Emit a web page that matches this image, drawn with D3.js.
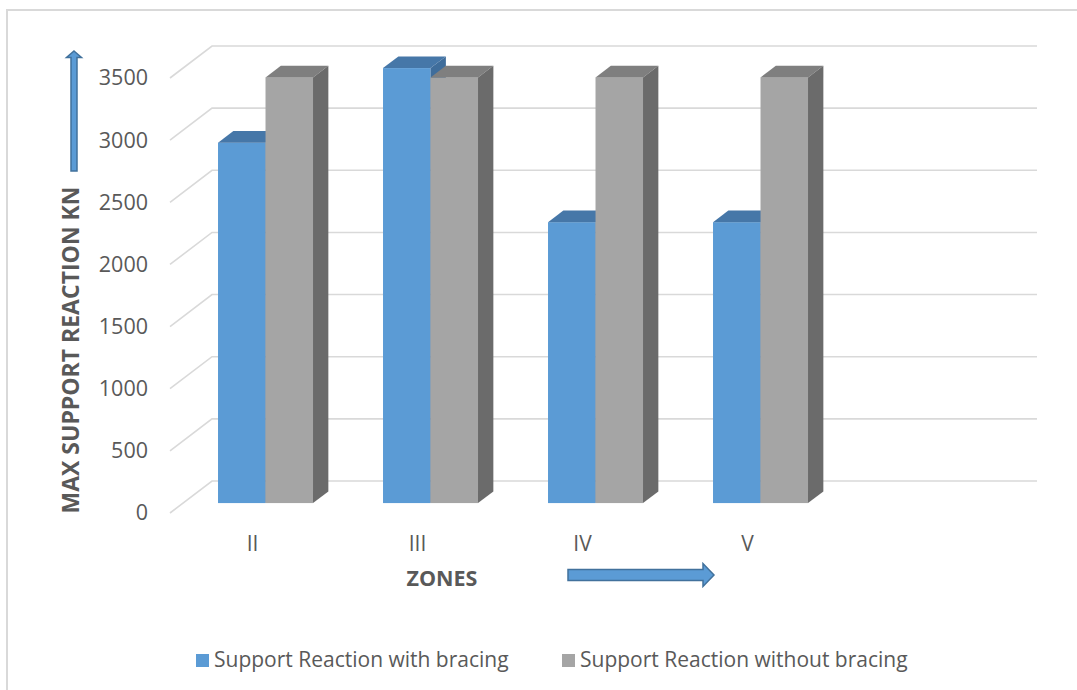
<!DOCTYPE html>
<html>
<head>
<meta charset="utf-8">
<script src="https://cdn.jsdelivr.net/npm/d3@7"></script>
<style>
  html, body { margin: 0; padding: 0; background: #fff; }
  svg { display: block; }
  text { font-family: "Open Sans", Lato, sans-serif; fill: #595959; }
</style>
</head>
<body>
<svg id="chart" width="1077" height="690"></svg>
<script>
// Zones along the x axis (the last slot is left empty)
const categories = ["II", "III", "IV", "V", ""];
// Max support reaction (kN) per zone
const withBracing = [2900, 3500, 2260, 2260];
const withoutBracing = [3425, 3425, 3425, 3425];
const seriesNames = ["Support Reaction with bracing", "Support Reaction without bracing"];
const yTicks = [0, 500, 1000, 1500, 2000, 2500, 3000, 3500];

const FONT = '"Open Sans", Lato, sans-serif';
const svg = d3.select("#chart");

// Outer chart frame
svg.append("rect")
  .attr("x", 7).attr("y", 10).attr("width", 1100).attr("height", 700)
  .attr("fill", "none").attr("stroke", "#d9d9d9").attr("stroke-width", 2);

// Front plane scales; the 3D depth is an oblique offset
const x = d3.scaleBand().domain(categories).range([170, 995]);
const y = d3.scaleLinear().domain([0, 3500]).range([513, 78]);
const DX = 42, DY = -32;          // full depth of the plot box
const f0 = 0.31, f1 = 0.675;      // bar depth slab (fraction of box depth)

// Gridlines: diagonal on the floor side, horizontal on the back wall
const grid = svg.append("g").attr("fill", "none").attr("stroke", "#d9d9d9").attr("stroke-width", 1.6);
yTicks.forEach(t => {
  const yy = y(t);
  grid.append("path")
    .attr("d", `M${x.range()[0]},${yy} L${x.range()[0] + DX},${yy + DY} L${x.range()[1] + DX},${yy + DY}`);
});

// Y tick labels
const yAxis = svg.append("g")
  .attr("transform", `translate(${x.range()[0]},0)`)
  .call(d3.axisLeft(y).tickValues(yTicks).tickSize(0).tickPadding(22).tickFormat(d3.format("d")));
yAxis.select(".domain").remove();
yAxis.selectAll("text").attr("font-size", 21.5).attr("fill", "#595959")
  .style("font-family", FONT);

// X tick labels
const xAxis = svg.append("g")
  .attr("transform", `translate(0,536)`)
  .call(d3.axisBottom(x).tickSize(0).tickPadding(0));
xAxis.select(".domain").remove();
xAxis.selectAll("text").attr("font-size", 21).attr("fill", "#595959")
  .style("font-family", FONT);

// 3D bars
const sub = d3.scaleBand().domain([0, 1]).range([-47.5, 47.5]);
const palette = [
  { front: "#5b9bd5", top: "#4677a8", side: "#3f6d9b" },
  { front: "#a5a5a5", top: "#7f7f7f", side: "#6b6b6b" }
];
const ox = f0 * DX, oy = f0 * DY;
const dd = (f1 - f0) * DX, ddy = (f1 - f0) * DY;
const barsG = svg.append("g");
categories.forEach((c, i) => {
  [withBracing, withoutBracing].forEach((series, s) => {
    if (series[i] === undefined) return;
    const x0 = x(c) + x.bandwidth() / 2 + sub(s) + ox;
    const x1 = x0 + sub.bandwidth();
    const yt = y(series[i]) + oy, yb = y(0) + oy;
    const col = palette[s];
    barsG.append("rect").attr("x", x0).attr("y", yt).attr("width", x1 - x0).attr("height", yb - yt)
      .attr("fill", col.front);
    barsG.append("path")
      .attr("d", `M${x0},${yt} L${x1},${yt} L${x1 + dd},${yt + ddy} L${x0 + dd},${yt + ddy}Z`)
      .attr("fill", col.top);
    barsG.append("path")
      .attr("d", `M${x1},${yt} L${x1 + dd},${yt + ddy} L${x1 + dd},${yb + ddy} L${x1},${yb}Z`)
      .attr("fill", col.side);
  });
});

// Axis titles
svg.append("text")
  .attr("transform", "translate(79,350) rotate(-90)")
  .attr("text-anchor", "middle")
  .attr("font-size", 23).attr("font-weight", "bold")
  .text("MAX SUPPORT REACTION KN");

svg.append("text")
  .attr("x", 442).attr("y", 586)
  .attr("text-anchor", "middle")
  .attr("font-size", 21.5).attr("font-weight", "bold")
  .text("ZONES");

// Direction arrows
const arrowStyle = g => g.attr("fill", "#5b9bd5").attr("stroke", "#41719c").attr("stroke-width", 1.5);
svg.append("path").call(arrowStyle)
  .attr("d", "M74,51 L81.5,57.5 L77,57.5 L77,171 L71,171 L71,57.5 L66.5,57.5 Z");
svg.append("path").call(arrowStyle)
  .attr("d", "M568,569.5 L703,569.5 L703,563.5 L714,575 L703,586.5 L703,580.5 L568,580.5 Z");

// Legend
const legend = svg.append("g");
const legendX = [196, 562];
seriesNames.forEach((name, s) => {
  legend.append("rect").attr("x", legendX[s]).attr("y", 654).attr("width", 13).attr("height", 13)
    .attr("fill", palette[s].front);
  legend.append("text").attr("x", legendX[s] + 18).attr("y", 667)
    .attr("font-size", 21).text(name);
});
</script>
</body>
</html>
